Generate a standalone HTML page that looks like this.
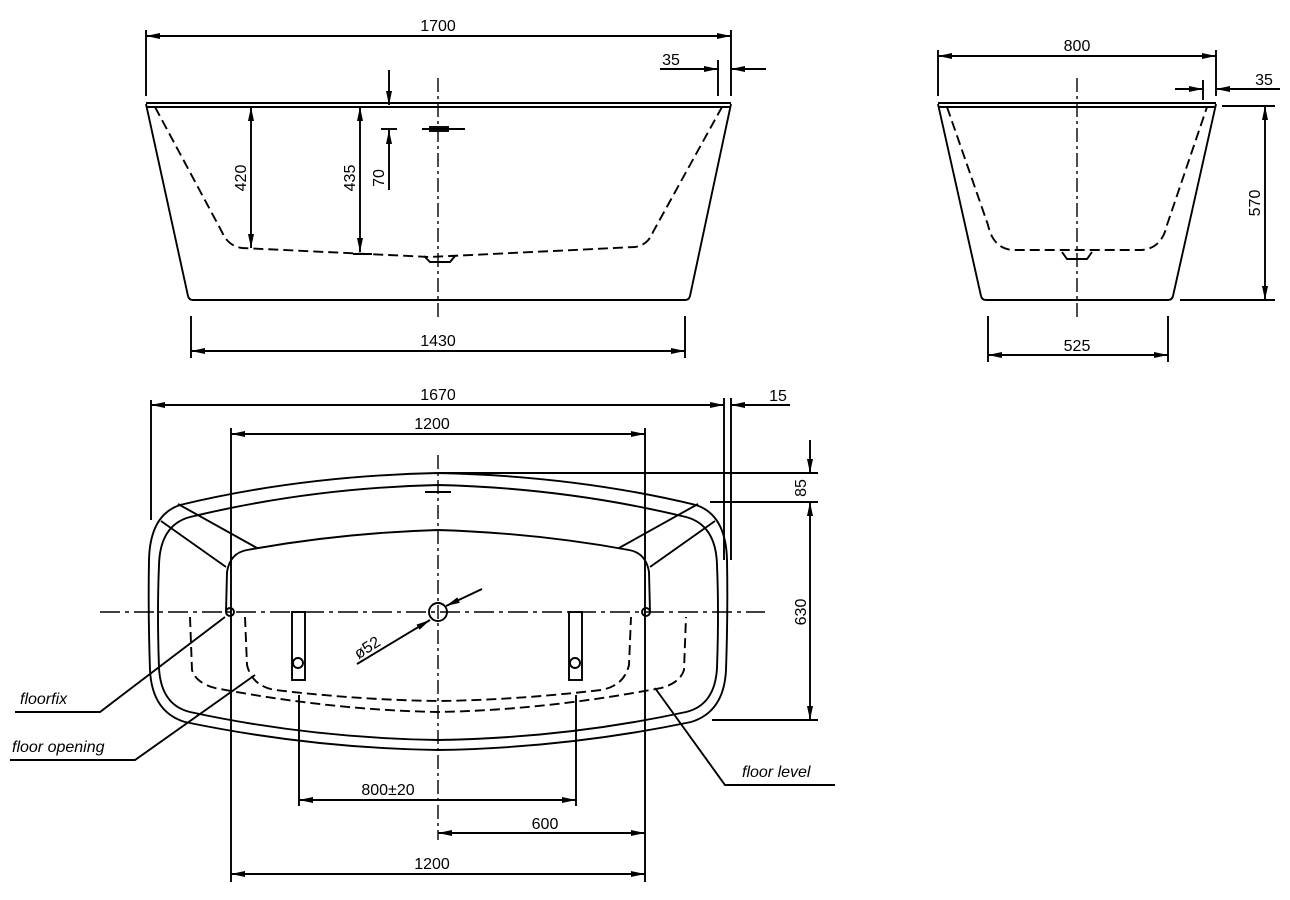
<!DOCTYPE html>
<html><head><meta charset="utf-8"><style>body{margin:0;background:#fff}svg{display:block}</style></head><body>
<svg width="1290" height="900" viewBox="0 0 1290 900" xmlns="http://www.w3.org/2000/svg" font-family="Liberation Sans, sans-serif" font-size="16">
<defs>
<marker id="a" viewBox="0 0 14 6" refX="14" refY="3" markerWidth="14" markerHeight="6" orient="auto-start-reverse" markerUnits="userSpaceOnUse"><path d="M0,0 L14,3 L0,6z" fill="#000"/></marker>
</defs>
<g stroke="#000" stroke-width="1.9" fill="none">
<!-- SIDE VIEW -->
<line x1="146" y1="36" x2="731" y2="36" marker-start="url(#a)" marker-end="url(#a)"/>
<line x1="146" y1="30" x2="146" y2="96"/><line x1="731" y1="30" x2="731" y2="96"/>
<line x1="660" y1="69" x2="718" y2="69" marker-end="url(#a)"/><line x1="766" y1="69" x2="731" y2="69" marker-end="url(#a)"/>
<line x1="718" y1="60" x2="718" y2="96"/>
<line x1="146" y1="103" x2="731" y2="103"/><line x1="146" y1="107" x2="731" y2="107"/>
<path d="M146,104 L188,296 Q189,300 193,300 L685,300 Q689,300 690,296 L731,104"/>
<path d="M155,107 L222,232 Q228,246 242,248 L430,257 L635,247 Q648,245 653,232 L722,107" stroke-dasharray="10,5"/>
<line x1="251" y1="107" x2="251" y2="248" marker-start="url(#a)" marker-end="url(#a)"/>
<line x1="360" y1="107" x2="360" y2="252" marker-start="url(#a)" marker-end="url(#a)"/>
<line x1="389" y1="70" x2="389" y2="105" marker-end="url(#a)"/><line x1="389" y1="190" x2="389" y2="130" marker-end="url(#a)"/>
<line x1="381" y1="129" x2="397" y2="129"/><line x1="422" y1="129" x2="465" y2="129"/><rect x="430" y="127" width="18" height="4"/>
<line x1="438" y1="78" x2="438" y2="318" stroke-width="1.4" stroke-dasharray="14,4,3,4"/>
<path d="M353,254 L372,254 M424,256 L430,262 L450,262 L455,256"/>
<line x1="191" y1="316" x2="191" y2="358"/><line x1="685" y1="316" x2="685" y2="358"/>
<line x1="191" y1="351" x2="685" y2="351" marker-start="url(#a)" marker-end="url(#a)"/>
<!-- END VIEW -->
<line x1="938" y1="56" x2="1216" y2="56" marker-start="url(#a)" marker-end="url(#a)"/>
<line x1="938" y1="50" x2="938" y2="96"/><line x1="1216" y1="50" x2="1216" y2="96"/>
<line x1="1175" y1="89" x2="1203" y2="89" marker-end="url(#a)"/><line x1="1280" y1="89" x2="1216" y2="89" marker-end="url(#a)"/>
<line x1="1203" y1="80" x2="1203" y2="100"/>
<line x1="938" y1="103" x2="1216" y2="103"/><line x1="938" y1="107" x2="1216" y2="107"/>
<path d="M938,104 L981,296 Q982,300 986,300 L1168,300 Q1172,300 1173,296 L1216,104"/>
<path d="M947,107 L988,225 Q993,248 1012,250 L1142,250 Q1162,248 1167,225 L1207,107" stroke-dasharray="10,5"/>
<path d="M1062,252 L1067,259 L1087,259 L1092,252"/>
<line x1="1077" y1="78" x2="1077" y2="318" stroke-width="1.4" stroke-dasharray="14,4,3,4"/>
<line x1="1222" y1="106" x2="1275" y2="106"/><line x1="1180" y1="300" x2="1275" y2="300"/>
<line x1="1265" y1="106" x2="1265" y2="300" marker-start="url(#a)" marker-end="url(#a)"/>
<line x1="988" y1="316" x2="988" y2="362"/><line x1="1168" y1="316" x2="1168" y2="362"/>
<line x1="988" y1="355" x2="1168" y2="355" marker-start="url(#a)" marker-end="url(#a)"/>
<!-- PLAN -->
<line x1="151" y1="405" x2="724" y2="405" marker-start="url(#a)" marker-end="url(#a)"/>
<line x1="151" y1="400" x2="151" y2="520"/><line x1="724" y1="398" x2="724" y2="560"/><line x1="731" y1="398" x2="731" y2="560"/>
<line x1="790" y1="405" x2="731" y2="405" marker-end="url(#a)"/>
<line x1="231" y1="434" x2="645" y2="434" marker-start="url(#a)" marker-end="url(#a)"/>
<line x1="231" y1="428" x2="231" y2="882"/><line x1="645" y1="428" x2="645" y2="882"/>
<path d="M438,473 Q300,476 180,505 Q150,515 149,560 Q148,612 150,670 Q152,712 185,722 Q310,748 438,750 Q566,748 691,722 Q724,712 726,670 Q728,612 727,560 Q726,515 696,505 Q576,476 438,473Z"/>
<path d="M438,485 Q310,488 190,517 Q160,525 159,565 Q157,612 159,668 Q161,705 190,712 Q310,738 438,740 Q566,738 686,712 Q715,705 717,668 Q719,612 717,565 Q716,525 686,517 Q566,488 438,485Z"/>
<path d="M178,504 L257,548 M161,521 L226,567 M698,504 L619,548 M715,521 L650,567"/>
<path d="M226,612 L227,572 Q230,553 247,550 Q340,533 438,530 Q536,533 629,550 Q646,553 649,572 L650,612"/>
<line x1="100" y1="612" x2="765" y2="612" stroke-width="1.4" stroke-dasharray="20,5,4,5"/>
<line x1="438" y1="455" x2="438" y2="840" stroke-width="1.4" stroke-dasharray="14,4,3,4"/>
<line x1="425" y1="492" x2="451" y2="492"/>
<path d="M245,617 L247,665 Q252,686 275,690 Q360,700 438,701 Q516,700 601,690 Q624,686 629,665 L631,617" stroke-dasharray="10,5"/>
<path d="M190,617 L192,670 Q196,683 215,688 Q330,710 438,712 Q546,710 661,688 Q680,683 684,670 L686,617" stroke-dasharray="10,5"/>
<circle cx="230" cy="612" r="4"/><circle cx="646" cy="612" r="4"/>
<circle cx="438" cy="612" r="9"/>
<rect x="292" y="612" width="13" height="68"/><circle cx="298" cy="663" r="5"/>
<rect x="569" y="612" width="13" height="68"/><circle cx="575" cy="663" r="5"/>
<line x1="357" y1="664" x2="430" y2="620" marker-end="url(#a)"/><line x1="482" y1="589" x2="446" y2="606" marker-end="url(#a)"/>
<line x1="438" y1="473" x2="818" y2="473"/><line x1="710" y1="502" x2="818" y2="502"/><line x1="712" y1="720" x2="818" y2="720"/>
<line x1="810" y1="440" x2="810" y2="473" marker-end="url(#a)"/><line x1="810" y1="502" x2="810" y2="720" marker-start="url(#a)" marker-end="url(#a)"/>
<path d="M15,712 L100,712 L225,617"/>
<path d="M10,760 L135,760 L255,675"/>
<path d="M835,785 L725,785 L655,688"/>
<line x1="299" y1="695" x2="299" y2="806"/><line x1="576" y1="695" x2="576" y2="806"/>
<line x1="299" y1="800" x2="576" y2="800" marker-start="url(#a)" marker-end="url(#a)"/>
<line x1="438" y1="833" x2="645" y2="833" marker-start="url(#a)" marker-end="url(#a)"/>
<line x1="231" y1="874" x2="645" y2="874" marker-start="url(#a)" marker-end="url(#a)"/>
</g>
<g fill="#000" text-anchor="middle">
<text x="438" y="31">1700</text><text x="671" y="65">35</text>
<text x="1077" y="51">800</text><text x="1264" y="85">35</text>
<text x="438" y="346">1430</text><text x="1077" y="351">525</text>
<text transform="translate(246,178) rotate(-90)">420</text>
<text transform="translate(355,178) rotate(-90)">435</text>
<text transform="translate(384,178) rotate(-90)">70</text>
<text transform="translate(1260,203) rotate(-90)">570</text>
<text x="438" y="400">1670</text><text x="778" y="401">15</text>
<text x="432" y="429">1200</text>
<text transform="translate(806,488) rotate(-90)">85</text>
<text transform="translate(806,612) rotate(-90)">630</text>
<text transform="translate(370,652) rotate(-33)">ø52</text>
<text x="388" y="795">800±20</text><text x="545" y="829">600</text><text x="432" y="869">1200</text>
</g>
<g fill="#000" font-style="italic">
<text x="20" y="704">floorfix</text>
<text x="12" y="752">floor opening</text>
<text x="742" y="777">floor level</text>
</g>
</svg>
</body></html>
